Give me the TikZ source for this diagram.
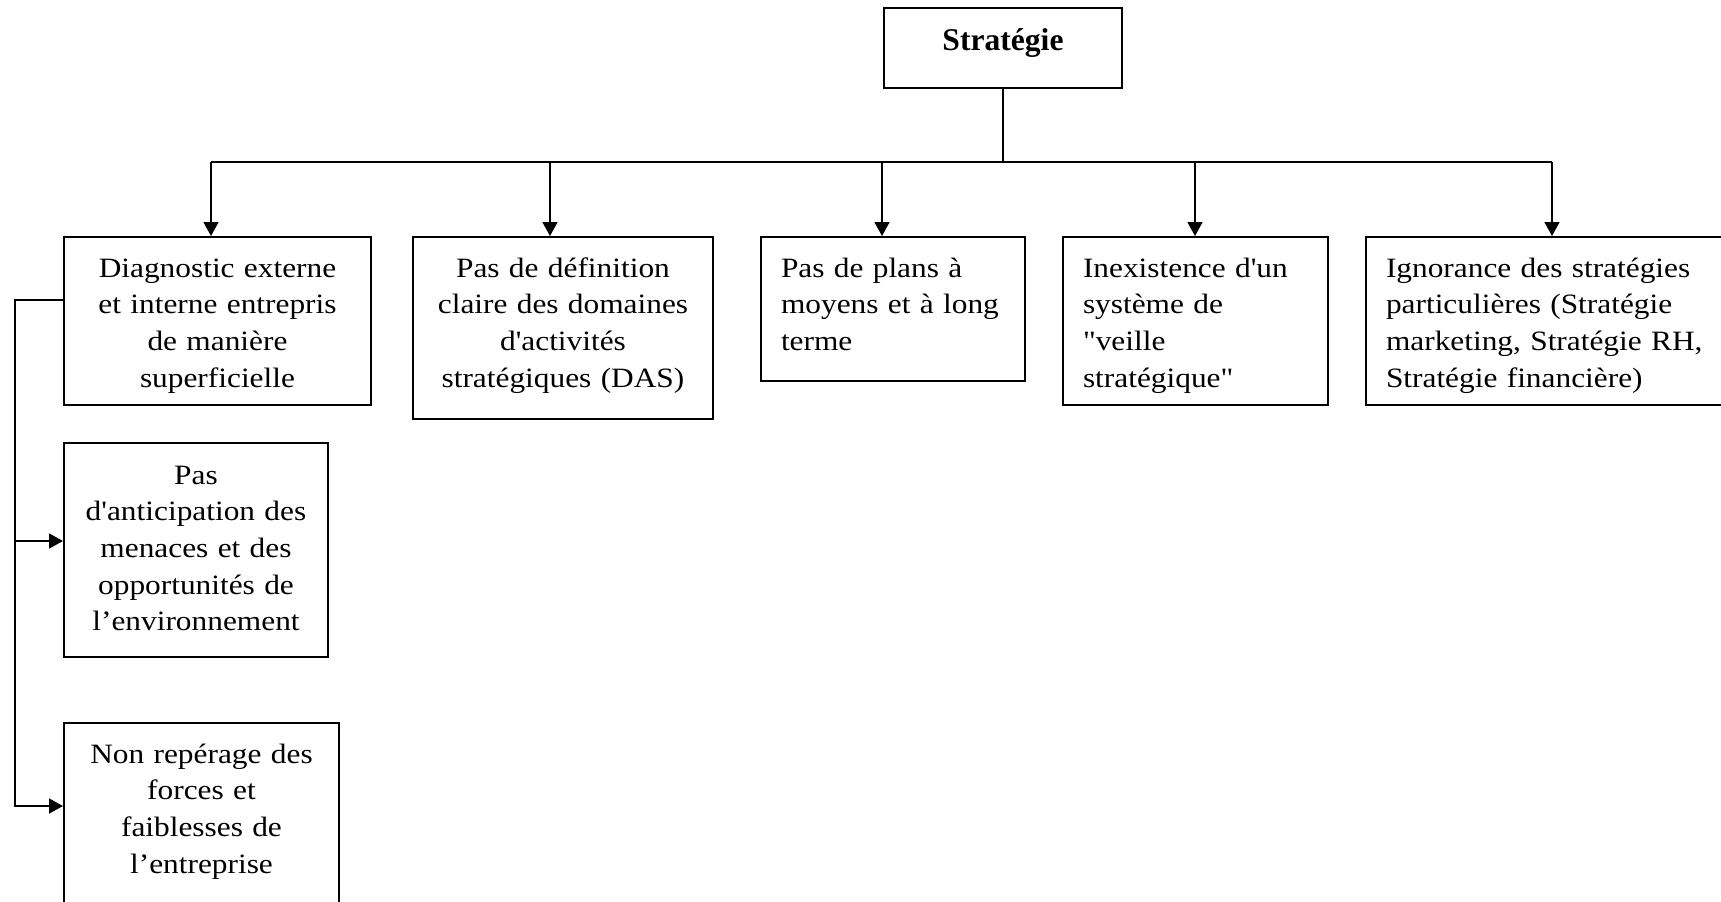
\documentclass[tikz,border=0pt]{standalone}
\usepackage{fontspec}
\setmainfont{Liberation Serif}[Ligatures=TeXOff, FakeStretch=1.12]
\newfontfamily\titlefont{Liberation Serif}[Ligatures=TeXOff]
\usetikzlibrary{arrows.meta}

\begin{document}
\begin{tikzpicture}[x=0.5pt,y=-0.5pt,
  box/.style={draw, line width=1pt, anchor=north west, inner ysep=0pt,
    font=\fontsize{14pt}{18.35pt}\selectfont, text height=20pt},
  cbox/.style={box, inner xsep=2pt, align=center},
  lbox/.style={box, inner xsep=10pt, align=left},
  link/.style={line width=0.8pt},
  arr/.style={link, -{Triangle[length=7pt,width=7.5pt]}}]

  \useasboundingbox (0,0) rectangle (1721,901);
  \fill[white] (0,0) rectangle (1721,901);
  \clip (0,0) rectangle (1721,901);

  % root
  \node[cbox, text width=115pt, text height=21pt, text depth=19pt,
        font=\titlefont\fontsize{15.8pt}{20pt}\selectfont\bfseries] (strat) at (883,7) {Stratégie};

  % first row
  \node[cbox, text width=149.5pt, text depth=64pt] (diag) at (63,236)
    {Diagnostic externe\\ et interne entrepris\\ de manière\\ superficielle};
  \node[cbox, text width=146pt, text depth=71pt] (das) at (412,236)
    {Pas de définition\\ claire des domaines\\ d'activités\\ stratégiques (DAS)};
  \node[lbox, text width=112pt, text depth=52pt] (plans) at (760,236)
    {Pas de plans à\\ moyens et à long\\ terme};
  \node[lbox, text width=112.5pt, text depth=64pt] (veille) at (1062,236)
    {Inexistence d'un\\ système de\\ "veille\\ stratégique"};
  \node[lbox, text width=162.5pt, text depth=64pt] (ignor) at (1365,236)
    {Ignorance des stratégies\\ particulières (Stratégie\\ marketing, Stratégie RH,\\ Stratégie financière)};

  % left column
  \node[cbox, text width=128pt, text height=20.5pt, text depth=86.5pt] (antic) at (63,442)
    {Pas\\ d'anticipation des\\ menaces et des\\ opportunités de\\ l’environnement};
  \node[cbox, text width=133.5pt, text depth=74pt] (nonrep) at (63,722)
    {Non repérage des\\ forces et\\ faiblesses de\\ l’entreprise};

  % bus from the root
  \coordinate (t1) at (211,162);
  \coordinate (t2) at (550,162);
  \coordinate (t3) at (882,162);
  \coordinate (t4) at (1195,162);
  \coordinate (t5) at (1552,162);
  \draw[link] (strat.south) -- (strat.south |- t1);
  \draw[link] (t1) -- (t5);
  \draw[arr] (t1) -- (t1 |- diag.north);
  \draw[arr] (t2) -- (t2 |- das.north);
  \draw[arr] (t3) -- (t3 |- plans.north);
  \draw[arr] (t4) -- (t4 |- veille.north);
  \draw[arr] (t5) -- (t5 |- ignor.north);

  % branch on the left
  \coordinate (lk) at (15,300);
  \coordinate (a2) at (15,541);
  \coordinate (a3) at (15,806);
  \draw[arr] (diag.west |- lk) -- (lk) -- (a3) -- (a3 -| nonrep.west);
  \draw[arr] (a2) -- (a2 -| antic.west);
\end{tikzpicture}
\end{document}
